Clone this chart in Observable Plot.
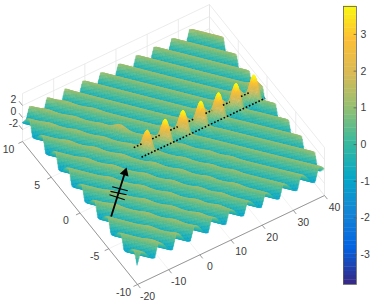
<!DOCTYPE html>
<html>
<head>
<meta charset="utf-8">
<script src="https://cdn.jsdelivr.net/npm/d3@7"></script>
<script src="https://cdn.jsdelivr.net/npm/@observablehq/plot@0.6"></script>
<style>
html,body{margin:0;padding:0;background:#fff}
#c{position:relative;width:374px;height:305px;overflow:hidden}
#c svg{position:absolute;left:0;top:0;background:transparent}
</style>
</head>
<body>
<div id="c"></div>
<script>
// Heights. The surface is known at crest lines,
// valley lines and read features only; between them the page shades the mesh
// (as MATLAB's "shading interp" does), so in-between values are not readings.
const crestColumnsX = [-20,-10,0,10,20,30,40];
const crestHeights = [
 [1,1,1,1,1,1,1],[1.05,1,1,1,1,1,1],[1.1,1,1,1,1,1,1],[1.1,1.05,1,1,1,1,1],
 [1.05,1.05,1,1,1,1,1],[1.1,1.05,1,.95,.95,1,1],[1.1,1.05,1,.95,.95,1,1],[1.1,1.1,1.05,1,.95,.95,1],
 [1.15,1.1,1.05,1,1,1,1.05],[1.15,1.1,1.05,1.05,1,1.05,1.15],[1.2,1.1,1.1,1.05,1.05,1.05,1.1],[1.2,1.15,1.1,1.05,1.05,1.05,1.1],
 [1.2,1.2,1.15,1.1,1.05,1.05,1.05],[1.2,1.2,1.15,1.1,1.1,1.05,1.05],[1.2,1.2,1.2,1.15,1.1,1.1,1.05],[1.2,1.2,1.2,1.15,1.15,1.1,1.1],
 [1.2,1.2,1.2,1.2,1.15,1.15,1.1],[1.2,1.2,1.2,1.2,1.2,1.15,1.15],[1.2,1.2,1.2,1.2,1.3,1.3,1.3],[1.2,1.2,1.2,1.2,1.2,-.8,-1]
];
const valleyHeights = [
 [-.9,-.9,-.9,-.9,-.9,-.9,-.9],[-1.1,-1,-1,-1,-1,-1,-1],[-1.1,-1.1,-1,-1,-1,-1,-1],[-1.1,-1.1,-1.05,-1,-1,-1,-1],
 [-1.1,-1.1,-1.1,-1.05,-1,-1,-1],[-1.2,-1.1,-1.1,-1.1,-1.05,-1,-1],[-1.2,-1.1,-1.1,-1.1,-1.1,-1.05,-1],[-1.2,-1.1,-1.1,-1.1,-1.1,-1.1,-1.1],
 [-1.2,-1.1,-1.1,-1.1,-1.1,-1.1,-1.1],[-1.3,-1.1,-1.1,-1.1,-1.1,-1.1,-1.2],[-1.2,-1.1,-1.1,-1.1,-1.1,-1.1,-1.2],[-1.1,-1.1,-1.1,-1.1,-1.1,-1.1,-1.1],
 [-1.1,-1.1,-1.1,-1.1,-1.1,-1.1,-1.1],[-1.1,-1.1,-1.1,-1.1,-1.1,-1.1,-1.1],[-1.1,-1.1,-1.1,-1.1,-1.1,-1.1,-1.1],[-1.1,-1.1,-1.1,-1.1,-1.1,-1.1,-1.1],
 [-1.1,-1.1,-1.1,-1.1,-1.1,-1.1,-1.1],[-1.1,-1.1,-1.1,-1.1,-1.1,-1.1,-1.1],[-1.1,-1.1,-1.1,-1.1,-1.1,-1.1,-1.1],[-1.1,-1.1,-1.1,-1.1,-1.1,-1.1,-1.1],[-1.1,-1.1,-1.1,-1.1,-1.1,-1.1,-1.1]
];
// small bumps read along the crests: ridge number, X, added height
const bumpRidge = [1,1,2,2,3,3,3,3,4,4,4,4,4,5,5,5,5,5,6,6,6,6,6,6,7,7,7,7,7,7,7,8,8,8,8,8,8,8,8,9,9,9,9,9,9,9,9,10,10,10,11,11];
const bumpX     = [-14,-10,-12,-7,-16,-10,-5,0,-14,-8,-3,2,6,-12,-6,-1,4,8,-14,-9,-3,2,7,11,-15,-10,-5,1,6,11,16,-16,-11,-6,-1,4,9,14,18,-14,-9,-4,-.6,6,11,16,20,-13,-8,-3,-12,-7];
const bumpH     = [.25,.25,.25,.25,.25,.25,.25,.25,.25,.25,.25,.25,.25,.25,.25,.25,.25,.25,.25,.25,.25,.25,.25,.25,.25,.25,.25,.25,.25,.25,.25,.2,.2,.2,.2,.2,.2,.2,.2,.2,.2,.2,.8,.2,.2,.2,.2,.2,.2,.2,.2,.2];
// seven tall peaks, with the dips beside them
const peakX   = [2.7,8.5,14.2,20,25.7,31.5,37.2];
const peakY   = [.55,.55,.55,.6,.6,.7,.7];
const peakTop = [3.4,3.8,3.85,3.9,3.9,3.9,3.9];
const dipX    = [1.2,6.9,12.6,18.4,24.1,29.9,35.6];
const dipY    = [-.1,-.1,-.1,-.1,-.1,-.1,-.1];
const dipLow  = [-2,-2.2,-2.2,-2.2,-2.2,-2.2,-2.2];
// annotations
const frontLineX = [0.2,39.9], frontLineY = [.25,.27];
const backLineSegments = [[.2,3.2],[6.1,8.5],[11.9,14.3],[17.8,19.6],[23.2,25.3],[28.8,31],[34.6,37.1]];
const backLineY = 1.6;
const arrowX = [-17.9,-5.4], arrowY = [-4.28,-.15];
const arrowHeadAt = [-6.5,-.5];
const crossBars = [[-12.1,-1.32,-9.24,-2.47],[-13.38,-1.71,-10.29,-2.82],[-14.23,-2,-11.62,-3.24]];
// axes
const xTicks = [-20,-10,0,10,20,30,40];
const yTicks = [-10,-5,0,5,10];
const zTicks = [-2,0,2];
const zWallLevels = [-4,-2,0,2,4];
const colorTicks = [-3,-2,-1,0,1,2,3];
const colorMin = -3.81, colorMax = 3.76;
const parula = ["#352a87","#0363e1","#1485d4","#06a7c6","#38b99e","#92bf73","#d9ba56","#fdbf35","#f9fb0e"];

// view: data -> picture plane (MATLAB view of the box)
const P = (X,Y,Z) => [
  137 + (X+20)*3.117 - (Y+10)*5.75,
  284 - (X+20)*1.483 - (Y+10)*7.15 - (Z+4)*6
];
const colorDomain = parula.map((_,i)=>colorMin+(colorMax-colorMin)*i/8);
const colorScale = {type:"linear",domain:colorDomain,range:parula,interpolate:"rgb",clamp:true};

function tableAt(row,X){
  const t=(Math.max(-20,Math.min(40,X))+20)/10, i=Math.min(5,Math.floor(t));
  return row[i]+(row[i+1]-row[i])*(t-i);
}
function crestAt(n,X){
  n=Math.max(0,Math.min(crestHeights.length-1,n));
  let c=tableAt(crestHeights[n],X);
  bumpRidge.forEach((r,i)=>{ if(r===n){const d=(X-bumpX[i])/1.4; c+=bumpH[i]*Math.exp(-d*d);} });
  return c;
}
// crest sits close to the valley in front of it: the ridges face the viewer
const crestPhase=.2;
function surface(X,Y){
  const p=.175*(X+20)+.44*(Y+10), n=Math.floor(p), f=p-n;
  const C=crestAt(n,X), V=tableAt(valleyHeights[Math.min(20,f<crestPhase?n:n+1)],X);
  const t=f<crestPhase?f/crestPhase:.5+.5*Math.cos(Math.PI*(f-crestPhase)/(1-crestPhase));
  let z=V+(C-V)*t;
  const near=(dx,dy,s)=>{const u=dx*3.117-dy*5.75,v=dx*1.483+dy*7.15;return Math.exp(-(u*u+v*v)/(s*s));};
  dipX.forEach((x,i)=>{const g=near(X-x,Y-dipY[i],4.5); z+=(dipLow[i]-z)*g;});
  peakX.forEach((x,i)=>{const g=near(X-x,Y-peakY[i],6); z+=(peakTop[i]-z)*g;});
  return z;
}
// mesh quads, back to front
const dX=.3,dY=.1,quads=[];
let q=0;
for(let i=200;i>0;i--){
  const X1=-20+i*dX, X0=X1-dX;
  for(let j=200;j>0;j--){
    const Y1=-10+j*dY, Y0=Y1-dY;
    const a=surface(X1,Y1),b=surface(X1,Y0),c=surface(X0,Y1),d=surface(X0,Y0);
    const m=(a+b+c+d)/4;
    const pa=P(X1,Y1,a),pb=P(X1,Y0,b),pc=P(X0,Y1,c),pd=P(X0,Y0,d);
    quads.push({q,v:m,x1:pa[0],y1:pa[1],x2:pb[0],y2:pb[1]},{q,v:m,x1:pc[0],y1:pc[1],x2:pd[0],y2:pd[1]});
    q++;
  }
}
const seg=(A,B)=>{const a=P(...A),b=P(...B);return {x1:a[0],y1:a[1],x2:b[0],y2:b[1]};};
const wall=[], floorGrid=[], axisLines=[], axisTicks=[];
xTicks.forEach(x=>{ wall.push(seg([x,10,-4],[x,10,4])); floorGrid.push(seg([x,-10,-4],[x,10,-4])); axisTicks.push(seg([x,-10,-4],[x,-10.5,-4])); });
yTicks.forEach(y=>{ wall.push(seg([40,y,-4],[40,y,4])); floorGrid.push(seg([-20,y,-4],[40,y,-4])); axisTicks.push(seg([-20,y,-4],[-21.3,y,-4])); });
zWallLevels.forEach(z=>{ wall.push(seg([-20,10,z],[40,10,z])); wall.push(seg([40,10,z],[40,-10,z])); });
zTicks.forEach(z=>axisTicks.push(seg([-20,10,z],[-20,10.6,z])));
axisLines.push(seg([-20,-10,-4],[40,-10,-4]),seg([-20,-10,-4],[-20,10,-4]));
const labelFont={fontFamily:"Liberation Sans, Arial, sans-serif",fontSize:10.5,fill:"#404040",textAnchor:"middle",lineAnchor:"middle"};
const textAt=(vals,f,dx,dy)=>Plot.text(vals.map(v=>{const p=f(v);return {x:p[0],y:p[1],t:String(v)};}),{x:"x",y:"y",text:"t",dx,dy,...labelFont});
const grid=(d,o)=>Plot.link(d,{x1:"x1",y1:"y1",x2:"x2",y2:"y2",...o});
const front=seg([frontLineX[0],frontLineY[0],0],[frontLineX[1],frontLineY[1],0]);
const dash={stroke:"#000",strokeWidth:1.6,strokeDasharray:"1.6 1.9"};
const arrowLine=seg([arrowX[0],arrowY[0],0],[arrowHeadAt[0],arrowHeadAt[1],0]);
const headPos=P(arrowHeadAt[0],arrowHeadAt[1],0);

const main=Plot.plot({
  width:374,height:305,margin:0,
  x:{domain:[0,374],range:[0,374],axis:null},
  y:{domain:[0,305],range:[0,305],axis:null},
  color:colorScale,
  marks:[
    grid(wall,{stroke:"#e4e4e4",strokeWidth:.7}),
    grid(floorGrid,{stroke:"#ececec",strokeWidth:.7}),
    grid(axisLines,{stroke:"#808080",strokeWidth:.8}),
    grid(axisTicks,{stroke:"#808080",strokeWidth:.8}),
    Plot.area(quads,{x1:"x1",y1:"y1",x2:"x2",y2:"y2",z:"q",fill:"v",stroke:"v",strokeWidth:.4,imageFilter:"blur(0.35px)"}),
    grid(backLineSegments.map(s=>seg([s[0],backLineY,0],[s[1],backLineY,0])),dash),
    grid([front],dash),
    grid([arrowLine],{stroke:"#000",strokeWidth:1.8}),
    Plot.dot([{x:headPos[0],y:headPos[1]}],{x:"x",y:"y",symbol:"triangle",r:3.4,fill:"#000",rotate:18}),
    grid(crossBars.map(c=>seg([c[0],c[1],0],[c[2],c[3],0])),{stroke:"#000",strokeWidth:1.1}),
    textAt(xTicks,x=>P(x,-10,-4),10,12),
    textAt(yTicks,y=>P(-20,y,-4),-14,8),
    textAt(zTicks,z=>P(-20,10,z),-9,-6)
  ]
});
const levels=d3.range(colorMin,colorMax,(colorMax-colorMin)/64);
const bar=Plot.plot({
  width:374,height:305,marginLeft:343,marginRight:18,marginTop:6,marginBottom:21,
  x:{domain:[0,1],axis:null},
  y:{domain:[colorMin,colorMax],axis:null},
  color:colorScale,
  marks:[
    Plot.rect(levels,{x1:0,x2:1,y1:d=>d,y2:d=>d+(colorMax-colorMin)/64+.01,fill:d=>d}),
    Plot.frame({stroke:"#606060",strokeWidth:.8}),
    Plot.link(colorTicks,{x1:.78,x2:1,y1:d=>d,y2:d=>d,stroke:"#505050",strokeWidth:.7}),
    Plot.text(colorTicks,{x:1,y:d=>d,text:d=>String(d),dx:4,textAnchor:"start",lineAnchor:"middle",fontFamily:labelFont.fontFamily,fontSize:10.5,fill:"#404040"})
  ]
});
const c=document.getElementById("c");
c.append(main,bar);
</script>
</body>
</html>
